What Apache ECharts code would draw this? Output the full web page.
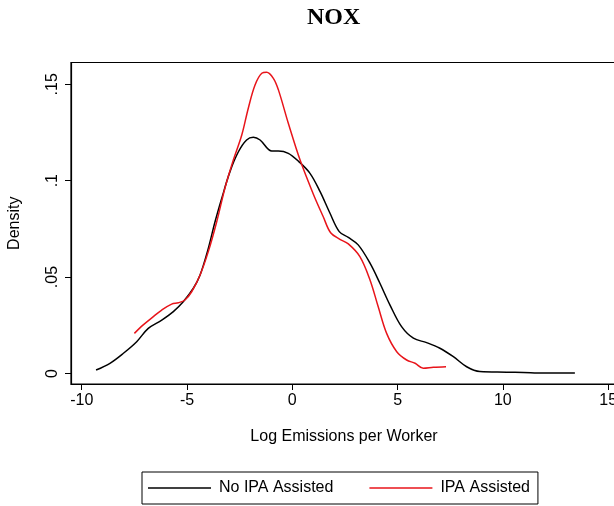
<!DOCTYPE html>
<html>
<head>
<meta charset="utf-8">
<script src="https://cdn.jsdelivr.net/npm/echarts@6/dist/echarts.min.js"></script>
<style>
html,body{margin:0;padding:0;background:#fff;}
#chart{width:614px;height:506px;}
</style>
</head>
<body>
<div id="chart"></div>
<script>
const titleText = 'NOX';
const xTickValues = [-10, -5, 0, 5, 10, 15];
const yTickValues = [0, 0.05, 0.1, 0.15];
const yTickLabels = ['0', '.05', '.1', '.15'];
const seriesNames = ['No IPA Assisted', 'IPA Assisted'];

const noIpaX = [-9.32, -8.66, -8.02, -7.39, -6.84, -6.20, -5.65, -5.18, -4.70, -4.38, -3.99, -3.67, -3.35, -2.96, -2.56, -2.17, -1.85, -1.53, -0.98, -0.66, -0.19, 0.30, 0.84, 1.32, 1.79, 2.23, 2.66, 3.13, 3.69, 4.16, 4.64, 5.19, 5.75, 6.38, 7.01, 7.65, 8.28, 8.91, 10.18, 10.97, 11.92, 12.87, 13.42];
const noIpaY = [0.0018, 0.0053, 0.0105, 0.0165, 0.0234, 0.0277, 0.0321, 0.0372, 0.0442, 0.0511, 0.0649, 0.0787, 0.0909, 0.1047, 0.1150, 0.1211, 0.1225, 0.1211, 0.1154, 0.1154, 0.1142, 0.1100, 0.1038, 0.0943, 0.0831, 0.0736, 0.0706, 0.0667, 0.0572, 0.0468, 0.0355, 0.0243, 0.0183, 0.0160, 0.0131, 0.0087, 0.0035, 0.0010, 0.0007, 0.0005, 0.0002, 0.0003, 0.0003];

const ipaX = [-7.50, -7.08, -6.60, -6.20, -5.73, -5.41, -5.10, -4.78, -4.38, -3.99, -3.59, -3.20, -2.80, -2.40, -2.09, -1.77, -1.45, -1.22, -0.90, -0.66, -0.19, 0.37, 1.00, 1.47, 1.82, 2.26, 2.66, 3.21, 3.69, 4.08, 4.48, 4.96, 5.43, 5.83, 6.22, 6.70, 7.30];
const ipaY = [0.0208, 0.0252, 0.0295, 0.0329, 0.0360, 0.0367, 0.0381, 0.0424, 0.0511, 0.0632, 0.0787, 0.0961, 0.1107, 0.1237, 0.1376, 0.1496, 0.1557, 0.1562, 0.1531, 0.1471, 0.1298, 0.1107, 0.0930, 0.0813, 0.0730, 0.0696, 0.0672, 0.0606, 0.0485, 0.0346, 0.0208, 0.0113, 0.0070, 0.0053, 0.0027, 0.0032, 0.0035];

const zip = (xs, ys) => xs.map((x, i) => [x, ys[i]]);
const sans = 'Liberation Sans, Arial, sans-serif';

const chart = echarts.init(document.getElementById('chart'), null, {renderer: 'canvas'});
chart.setOption({
  animation: false,
  backgroundColor: '#fff',
  title: {
    text: titleText,
    left: 307, top: 6, padding: 0,
    textStyle: {fontFamily: 'Liberation Serif, Times New Roman, serif', fontWeight: 'bold', fontSize: 24, color: '#000'}
  },
  grid: {left: 71, right: -3, top: 62.5, bottom: 122, show: true, borderColor: '#000', borderWidth: 1.2, containLabel: false, outerBoundsMode: 'none'},
  legend: {
    data: seriesNames,
    left: 142, top: 472,
    orient: 'horizontal',
    icon: 'rect',
    itemWidth: 63, itemHeight: 1.5,
    itemGap: 36,
    padding: [7, 8, 7, 6],
    borderColor: '#000', borderWidth: 1,
    textStyle: {fontFamily: sans, fontSize: 16, color: '#000', lineHeight: 18, padding: [0, 0, 0, 3]}
  },
  xAxis: {
    type: 'value',
    min: -10.51, max: 15.42,
    name: 'Log Emissions per Worker',
    nameLocation: 'middle', nameGap: 45,
    nameTextStyle: {fontFamily: sans, fontSize: 16, color: '#000'},
    splitLine: {show: false},
    axisLine: {show: true, onZero: false, lineStyle: {color: '#000', width: 1.2}},
    axisTick: {show: true, length: 6, customValues: xTickValues, lineStyle: {color: '#000', width: 1}},
    axisLabel: {customValues: xTickValues, margin: 9, fontFamily: sans, fontSize: 16, color: '#000', hideOverlap: false}
  },
  yAxis: {
    type: 'value',
    min: -0.00545, max: 0.1613,
    name: 'Density',
    nameLocation: 'middle', nameGap: 48,
    nameTextStyle: {fontFamily: sans, fontSize: 16, color: '#000'},
    splitLine: {show: false},
    axisLine: {show: true, onZero: false, lineStyle: {color: '#000', width: 1.2}},
    axisTick: {show: true, length: 6, customValues: yTickValues, lineStyle: {color: '#000', width: 1}},
    axisLabel: {
      customValues: yTickValues, rotate: 90, margin: 10,
      fontFamily: sans, fontSize: 16, color: '#000',
      formatter: v => { const i = yTickValues.findIndex(t => Math.abs(t - v) < 1e-9); return i >= 0 ? yTickLabels[i] : ''; }
    }
  },
  series: [
    {name: seriesNames[0], type: 'line', data: zip(noIpaX, noIpaY), smooth: 0.35, symbol: 'none', color: '#000', lineStyle: {color: '#000', width: 1.5}},
    {name: seriesNames[1], type: 'line', data: zip(ipaX, ipaY), smooth: 0.35, symbol: 'none', color: '#e8141a', lineStyle: {color: '#e8141a', width: 1.5}}
  ]
});
</script>
</body>
</html>
